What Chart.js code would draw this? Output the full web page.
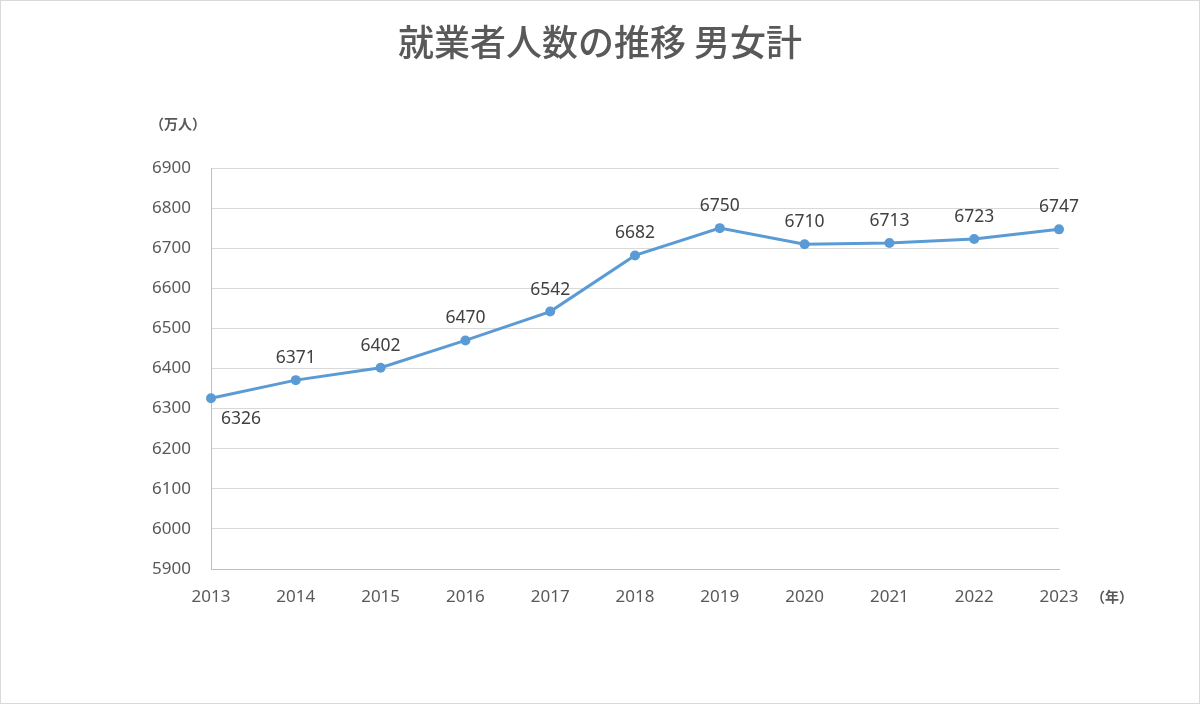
<!DOCTYPE html>
<html>
<head>
<meta charset="utf-8">
<script src="https://cdn.jsdelivr.net/npm/chart.js@4.4.0/dist/chart.umd.min.js"></script>
<style>
    html, body { margin: 0; padding: 0; background: #fff; }
    canvas { display: block; }
</style>
</head>
<body>
<canvas id="workersChart" width="1200" height="704"></canvas>
<script>
// 就業者数（男女計）
const years = ['2013', '2014', '2015', '2016', '2017', '2018', '2019', '2020', '2021', '2022', '2023'];
const workers = [6326, 6371, 6402, 6470, 6542, 6682, 6750, 6710, 6713, 6723, 6747];
const yMin = 5900;
const yMax = 6900;
const yStep = 100;

const titleText = '就業者人数の推移 男女計';
const yUnitText = '（万人）';
const xUnitText = '（年）';

const numFont = '"Noto Sans", sans-serif';
const jpFont = '"Noto Sans CJK JP", sans-serif';
const textColor = '#595959';

// title, unit labels, frame and point labels
const decorPlugin = {
    id: 'decor',
    afterDraw(chart) {
        const ctx = chart.ctx;
        ctx.save();

        ctx.strokeStyle = '#d9d9d9';
        ctx.lineWidth = 1;
        ctx.strokeRect(0.5, 0.5, chart.width - 1, chart.height - 1);

        ctx.fillStyle = textColor;
        ctx.textAlign = 'center';
        ctx.textBaseline = 'middle';
        ctx.font = '500 36px ' + jpFont;
        ctx.fillText(titleText, 600, 42);

        ctx.font = 'bold 14px ' + jpFont;
        ctx.fillText(yUnitText, 178, 124);
        ctx.fillText(xUnitText, 1112, 597);

        // value labels
        const meta = chart.getDatasetMeta(0);
        ctx.font = '17.5px ' + numFont;
        ctx.fillStyle = '#404040';
        meta.data.forEach((pt, i) => {
            const v = workers[i];
            if (i === 0) {
                ctx.fillText(v, pt.x + 30, pt.y + 21);
            } else {
                ctx.fillText(v, pt.x, pt.y - 22);
            }
        });
        ctx.restore();
    }
};

const ctx = document.getElementById('workersChart').getContext('2d');
const workersChart = new Chart(ctx, {
    type: 'line',
    data: {
        labels: years,
        datasets: [{
            label: '就業者数',
            data: workers,
            borderColor: '#5b9bd5',
            backgroundColor: '#5b9bd5',
            borderWidth: 3,
            pointRadius: 5,
            pointBackgroundColor: '#5b9bd5',
            pointBorderColor: '#5b9bd5',
            pointBorderWidth: 0,
            tension: 0
        }]
    },
    options: {
        responsive: false,
        animation: false,
        layout: {
            padding: { top: 168, right: 141, left: 0, bottom: 0 }
        },
        plugins: {
            legend: { display: false },
            tooltip: { enabled: false },
            title: { display: false }
        },
        scales: {
            x: {
                offset: false,
                afterFit: function(scale) { scale.height = 135; },
                ticks: {
                    font: { size: 17, family: numFont },
                    color: textColor,
                    padding: 18,
                    maxRotation: 0
                },
                grid: { display: false, drawTicks: false },
                border: { display: true, color: '#bfbfbf', width: 1 }
            },
            y: {
                min: yMin,
                max: yMax,
                afterFit: function(scale) { scale.width = 211; },
                ticks: {
                    stepSize: yStep,
                    font: { size: 17, family: numFont },
                    color: textColor,
                    padding: 20,
                    callback: function(value) {
                        return String(value);
                    }
                },
                grid: { color: '#d9d9d9', drawTicks: false },
                border: { display: true, color: '#bfbfbf', width: 1 }
            }
        }
    },
    plugins: [decorPlugin]
});
</script>
</body>
</html>
